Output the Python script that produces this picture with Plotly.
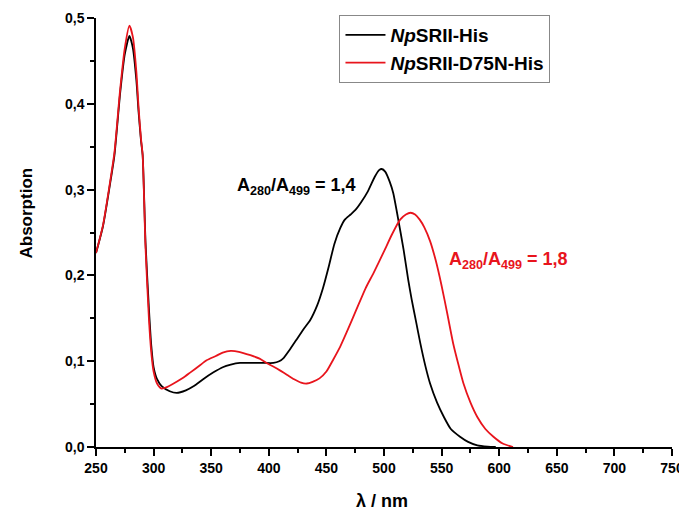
import plotly.graph_objects as go

# NpSRII-His (black)
wl_black = [250, 256, 262, 266, 271, 275, 279, 282, 285, 287, 289, 290.5, 293, 296, 298, 300,
            303, 307, 314, 320, 328, 335, 343, 352, 360, 367, 375, 384, 395, 404, 409, 413,
            418, 424, 430, 436, 442, 447, 452, 457, 462, 466, 471, 475, 480, 486, 492, 496,
            498, 501, 505, 508, 512, 517, 521, 524, 528, 531.5, 536, 540, 546, 552, 558, 566,
            573, 581, 590, 597]
abs_black = [0.226, 0.257, 0.305, 0.340, 0.413, 0.458, 0.479, 0.465, 0.428, 0.390, 0.358, 0.340,
             0.238, 0.160, 0.118, 0.093, 0.079, 0.071, 0.065, 0.063, 0.066, 0.071, 0.079, 0.087,
             0.093, 0.096, 0.098, 0.098, 0.098, 0.098, 0.100, 0.104, 0.113, 0.125, 0.137, 0.148,
             0.165, 0.185, 0.210, 0.237, 0.255, 0.265, 0.271, 0.276, 0.285, 0.298, 0.315, 0.323,
             0.324, 0.321, 0.309, 0.296, 0.268, 0.230, 0.195, 0.172, 0.145, 0.121, 0.094, 0.074,
             0.052, 0.035, 0.021, 0.012, 0.006, 0.002, 0.0005, 0.0]

# NpSRII-D75N-His (red)
wl_red = [250, 256, 262, 266, 271, 275, 279, 282, 285, 287, 289, 290.5, 293, 296, 298, 300,
          303, 307, 312, 320, 326, 332, 340, 346, 354, 360, 367, 374, 384, 392, 398, 405, 410,
          416, 422, 428, 433, 438, 444, 450, 456, 462, 468, 476, 484, 491, 500, 507, 514, 519,
          523, 527, 531, 535, 540, 545, 550, 555, 560, 565, 569, 575, 581, 588, 595, 603, 612]
abs_red = [0.226, 0.258, 0.307, 0.343, 0.417, 0.465, 0.491, 0.478, 0.438, 0.395, 0.360, 0.340,
           0.232, 0.148, 0.110, 0.088, 0.074, 0.068, 0.070, 0.076, 0.081, 0.087, 0.095, 0.101,
           0.106, 0.110, 0.112, 0.111, 0.107, 0.103, 0.098, 0.093, 0.089, 0.084, 0.079, 0.075,
           0.074, 0.076, 0.080, 0.088, 0.102, 0.117, 0.135, 0.160, 0.185, 0.203, 0.228, 0.248,
           0.265, 0.271, 0.273, 0.271, 0.265, 0.256, 0.240, 0.217, 0.188, 0.155, 0.121, 0.094,
           0.074, 0.052, 0.035, 0.021, 0.012, 0.004, 0.0]

RED = "#e8141c"
FONT = "Liberation Sans, Arial, sans-serif"

fig = go.Figure()
fig.add_trace(go.Scatter(x=wl_black, y=abs_black, mode="lines",
                         line=dict(color="black", width=1.8, shape="spline", smoothing=0.6),
                         name="<i>Np</i>SRII-His"))
fig.add_trace(go.Scatter(x=wl_red, y=abs_red, mode="lines",
                         line=dict(color=RED, width=1.8, shape="spline", smoothing=0.6),
                         name="<i>Np</i>SRII-D75N-His"))

axis_common = dict(showline=True, linecolor="black", linewidth=1.5, ticks="outside",
                   ticklen=7, tickwidth=1.5, tickcolor="black", showgrid=False, zeroline=False,
                   automargin=False,
                   tickfont=dict(family=FONT, size=14, color="black", weight="bold"))

fig.update_xaxes(range=[250, 750], dtick=50, tick0=250,
                 minor=dict(dtick=25, ticklen=4, tickwidth=1.5, tickcolor="black", ticks="outside"),
                 **axis_common)
fig.update_yaxes(range=[0, 0.5], dtick=0.1, tickformat=".1f",
                 minor=dict(dtick=0.05, ticklen=4, tickwidth=1.5, tickcolor="black", ticks="outside"),
                 **axis_common)

fig.add_annotation(text="<b>A<sub>280</sub>/A<sub>499</sub> = 1,4</b>", xref="paper", yref="paper",
                   x=0.2417, y=0.608, xanchor="left", yanchor="middle", showarrow=False,
                   font=dict(family=FONT, size=18, color="black"))
fig.add_annotation(text="<b>A<sub>280</sub>/A<sub>499</sub> = 1,8</b>", xref="paper", yref="paper",
                   x=0.6096, y=0.4336, xanchor="left", yanchor="middle", showarrow=False,
                   font=dict(family=FONT, size=18, color=RED))
fig.add_annotation(text="<b>Absorption</b>", xref="paper", yref="paper",
                   x=-0.121, y=0.545, xanchor="center", yanchor="middle", textangle=-90,
                   showarrow=False, font=dict(family=FONT, size=17, color="black"))
fig.add_annotation(text="<b>λ / nm</b>", xref="paper", yref="paper",
                   x=0.497, y=-0.125, xanchor="center", yanchor="middle",
                   showarrow=False, font=dict(family=FONT, size=18, color="black"))

# page body has an 8px default margin, so the figure is sized/offset to compensate
fig.update_layout(
    width=679, height=502,
    margin=dict(l=88, r=15, t=10, b=63, autoexpand=False),
    paper_bgcolor="white", plot_bgcolor="white",
    separators=",.",
    legend=dict(x=0.4227, y=1.007, xanchor="left", yanchor="top",
                bordercolor="#888888", borderwidth=1, bgcolor="white",
                font=dict(family=FONT, size=19, color="black", weight="bold"),
                itemwidth=40, tracegroupgap=0),
    showlegend=True,
)

fig.write_html("out.html")
